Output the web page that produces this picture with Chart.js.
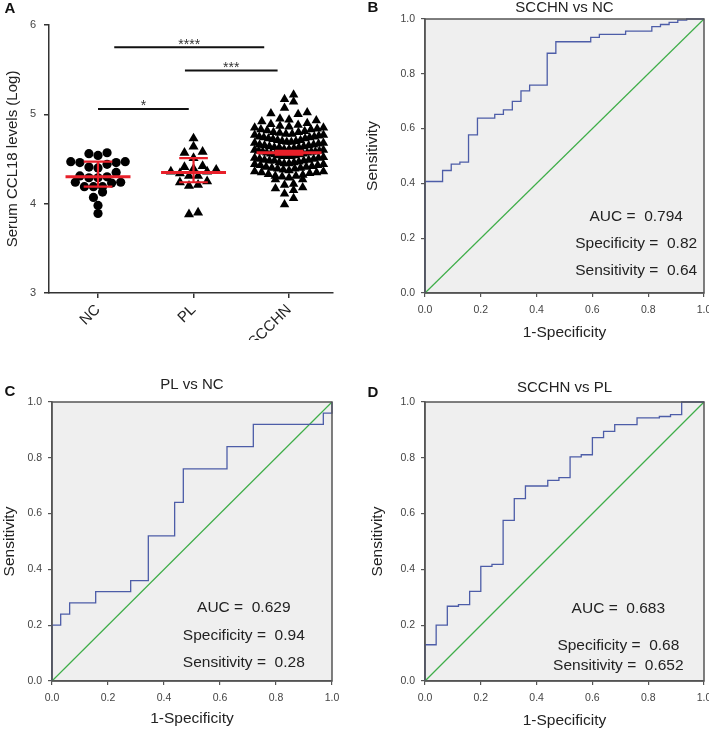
<!DOCTYPE html>
<html>
<head>
<meta charset="utf-8">
<script src="https://cdn.jsdelivr.net/npm/chart.js@4.4.1/dist/chart.umd.min.js"></script>
<style>
  body { margin: 0; background: #fff; }
  #fig { position: relative; width: 709px; height: 730px; overflow: hidden; }
  #fig canvas { position: absolute; }
</style>
</head>
<body>
<div id="fig">
  <canvas id="panelA" width="345" height="340" style="left:0;top:0"></canvas>
  <canvas id="panelB" width="354" height="360" style="left:355px;top:0"></canvas>
  <canvas id="panelC" width="355" height="370" style="left:0;top:360px"></canvas>
  <canvas id="panelD" width="354" height="370" style="left:355px;top:360px"></canvas>
</div>
<script>
// ---- panel A: serum CCL18 (log) per group ----
var groups = ['NC', 'PL', 'SCCHN'];
var ncValues = [4.57, 4.54, 4.56, 4.47, 4.46, 4.44, 4.46, 4.47, 4.40, 4.41, 4.35, 4.30, 4.29,
  4.31, 4.29, 4.24, 4.19, 4.23, 4.24, 4.19, 4.19, 4.13, 4.07, 3.98, 3.89];
var plValues = [4.73, 4.64, 4.57, 4.58, 4.51, 4.41, 4.42, 4.38, 4.31, 4.36, 4.36, 4.39, 4.31,
  4.34, 4.25, 4.21, 4.20, 4.24, 3.88, 3.90];
var scchnValues = [
  5.22, 5.17, 5.14, 5.07, 5.02, 5.01, 5.00, 4.95, 4.94, 4.93, 4.92, 4.90, 4.89, 4.88,
  4.87, 4.86, 4.85, 4.85, 4.84, 4.83, 4.83,
  4.82, 4.81, 4.80, 4.80, 4.79, 4.78, 4.78, 4.77,
  4.77, 4.76, 4.75, 4.75, 4.74, 4.74, 4.73, 4.73,
  4.72, 4.71, 4.71, 4.70, 4.70, 4.69, 4.69, 4.68, 4.68,
  4.67, 4.66, 4.66, 4.65, 4.65, 4.64, 4.64, 4.63, 4.63, 4.63,
  4.62, 4.61, 4.61, 4.60, 4.60, 4.59, 4.59, 4.58, 4.58, 4.58, 4.57,
  4.57, 4.56, 4.56, 4.55, 4.55, 4.54, 4.54, 4.53, 4.53, 4.53,
  4.52, 4.51, 4.51, 4.50, 4.50, 4.49, 4.49, 4.48, 4.48, 4.48,
  4.47, 4.46, 4.46, 4.45, 4.45, 4.44, 4.44, 4.43, 4.43,
  4.42, 4.41, 4.41, 4.40, 4.40, 4.39, 4.39, 4.38,
  4.37, 4.36, 4.36, 4.35, 4.35, 4.34, 4.33,
  4.32, 4.31, 4.31, 4.30, 4.29,
  4.27, 4.27, 4.22, 4.21, 4.18, 4.17, 4.15, 4.11, 4.06, 3.99];
var centreValue = [4.30, 4.35, 4.57];
var lowValue = [4.19, 4.24, 4.55];
var highValue = [4.47, 4.51, 4.59];
var sigFrom = [0.17, 0.91, 0.0];
var sigTo = [1.74, 1.88, 0.95];
var sigLevel = [5.75, 5.49, 5.06];
var sigText = ['****', '***', '*'];

// ---- ROC curves (1-specificity, sensitivity) ----
var chance = [0, 1];
var statNames = ['AUC', 'Specificity', 'Sensitivity'];

var fprB = [0, 0, 0.063, 0.094, 0.125, 0.156, 0.188, 0.25, 0.281, 0.313, 0.344, 0.375, 0.438,
  0.469, 0.594, 0.625, 0.719, 0.813, 0.844, 0.875, 0.906, 0.938, 1.0];
var tprB = [0, 0.407, 0.447, 0.47, 0.478, 0.577, 0.638, 0.652, 0.668, 0.699, 0.738, 0.759, 0.875,
  0.917, 0.933, 0.944, 0.956, 0.972, 0.98, 0.988, 0.996, 1.0, 1.0];
var statsB = ['0.794', '0.82', '0.64'];

var fprC = [0, 0, 0.031, 0.063, 0.156, 0.281, 0.344, 0.438, 0.469, 0.625, 0.719, 0.969, 1.0, 1.0];
var tprC = [0, 0.20, 0.24, 0.28, 0.32, 0.36, 0.52, 0.64, 0.76, 0.84, 0.92, 0.96, 0.96, 1.0];
var statsC = ['0.629', '0.94', '0.28'];

var fprD = [0, 0, 0.04, 0.08, 0.12, 0.16, 0.20, 0.24, 0.28, 0.32, 0.36, 0.44, 0.48, 0.52, 0.56,
  0.60, 0.64, 0.68, 0.76, 0.84, 0.88, 0.92, 1.0];
var tprD = [0, 0.13, 0.20, 0.268, 0.274, 0.321, 0.411, 0.418, 0.576, 0.654, 0.699, 0.719, 0.729,
  0.803, 0.811, 0.872, 0.895, 0.919, 0.943, 0.948, 0.955, 1.0, 1.0];
var statsD = ['0.683', '0.68', '0.652'];

var FONT = '"Liberation Sans", Arial, sans-serif';
Chart.defaults.font.family = FONT;
Chart.defaults.color = '#333';

// rows of similar values, filled from the middle outwards (prism style)
function swarm(values, centre, rowSpan, gap, maxHalf) {
  var sorted = values.slice().sort(function (a, b) { return a - b; });
  var rows = [], row = [];
  sorted.forEach(function (v) {
    if (row.length && v - row[0] > rowSpan) { rows.push(row); row = []; }
    row.push(v);
  });
  if (row.length) rows.push(row);
  var pts = [];
  rows.forEach(function (r) {
    var n = r.length;
    var step = n > 1 ? Math.min(gap, 2 * maxHalf / (n - 1)) : 0;
    var slots = [];
    for (var i = 0; i < n; i++) slots.push((i - (n - 1) / 2) * step);
    slots.sort(function (a, b) { return Math.abs(a) - Math.abs(b) || a - b; });
    r.forEach(function (v, i) { pts.push({ x: centre + slots[i], y: v }); });
  });
  return pts;
}

var panelText = {
  id: 'panelText',
  afterDraw: function (chart, args, o) {
    var ctx = chart.ctx, a = chart.chartArea;
    ctx.save();
    ctx.fillStyle = '#111';
    ctx.textAlign = 'center';
    ctx.textBaseline = 'middle';
    ctx.font = 'bold 15px ' + FONT;
    ctx.fillText(o.letter, o.lx, o.ly);
    if (o.title) {
      ctx.fillStyle = '#222';
      ctx.font = '15px ' + FONT;
      ctx.fillText(o.title, (a.left + a.right) / 2, a.top - o.titleGap);
    }
    if (o.stats) {
      ctx.font = '15.5px ' + FONT;
      var sx = chart.scales.x.getPixelForValue(o.statX);
      o.stats.forEach(function (v, i) {
        ctx.fillText(statNames[i] + ' =  ' + v, sx, chart.scales.y.getPixelForValue(o.statY[i]));
      });
    }
    ctx.restore();
  }
};

var plotFrame = {
  id: 'plotFrame',
  beforeDraw: function (chart, args, o) {
    if (!o.fill) return;
    var a = chart.chartArea, ctx = chart.ctx;
    ctx.save();
    ctx.fillStyle = o.fill;
    ctx.fillRect(a.left, a.top, a.right - a.left, a.bottom - a.top);
    ctx.restore();
  },
  afterDraw: function (chart, args, o) {
    if (!o.stroke) return;
    var a = chart.chartArea, ctx = chart.ctx;
    ctx.save();
    ctx.strokeStyle = o.stroke;
    ctx.lineWidth = 1.5;
    ctx.strokeRect(a.left, a.top, a.right - a.left, a.bottom - a.top);
    ctx.restore();
  }
};

var summaryBars = {
  id: 'summaryBars',
  afterDatasetsDraw: function (chart) {
    var x = chart.scales.x, y = chart.scales.y, ctx = chart.ctx;
    ctx.save();
    ctx.strokeStyle = '#e8202a';
    groups.forEach(function (g, i) {
      var cx = x.getPixelForValue(i);
      var hw = x.getPixelForValue(i + 0.34) - cx;
      var cw = x.getPixelForValue(i + 0.15) - cx;
      var ym = y.getPixelForValue(centreValue[i]);
      var yl = y.getPixelForValue(lowValue[i]);
      var yh = y.getPixelForValue(highValue[i]);
      ctx.lineWidth = 2.2;
      ctx.beginPath();
      ctx.moveTo(cx, yl); ctx.lineTo(cx, yh);
      ctx.moveTo(cx - cw, yl); ctx.lineTo(cx + cw, yl);
      ctx.moveTo(cx - cw, yh); ctx.lineTo(cx + cw, yh);
      ctx.stroke();
      ctx.lineWidth = 3;
      ctx.beginPath();
      ctx.moveTo(cx - hw, ym); ctx.lineTo(cx + hw, ym);
      ctx.stroke();
    });
    ctx.strokeStyle = '#111';
    ctx.fillStyle = '#333';
    ctx.lineWidth = 2;
    ctx.font = '14px ' + FONT;
    ctx.textAlign = 'center';
    ctx.textBaseline = 'alphabetic';
    sigText.forEach(function (t, i) {
      var x0 = x.getPixelForValue(sigFrom[i]), x1 = x.getPixelForValue(sigTo[i]);
      var yy = y.getPixelForValue(sigLevel[i]);
      ctx.beginPath();
      ctx.moveTo(x0, yy); ctx.lineTo(x1, yy);
      ctx.stroke();
      ctx.fillText(t, (x0 + x1) / 2, yy + 1.5);
    });
    ctx.restore();
  }
};

function dots(values, centre, style, r) {
  return {
    data: swarm(values, centre, 0.08, 0.095, 0.36),
    pointStyle: style,
    pointRadius: r,
    backgroundColor: '#000',
    borderColor: '#000',
    borderWidth: 0,
    showLine: false
  };
}

new Chart(document.getElementById('panelA'), {
  type: 'scatter',
  data: {
    datasets: [
      dots(ncValues, 0, 'circle', 4.6),
      dots(plValues, 1, 'triangle', 5.8),
      dots(scchnValues, 2, 'triangle', 5.5)
    ]
  },
  options: {
    responsive: false,
    animation: false,
    layout: { padding: { left: 0, right: 12, top: 25, bottom: 0 } },
    plugins: {
      legend: { display: false },
      tooltip: { enabled: false },
      panelText: { letter: 'A', lx: 10, ly: 9 }
    },
    scales: {
      x: {
        type: 'linear', min: -0.513, max: 2.46,
        afterBuildTicks: function (s) { s.ticks = [{ value: 0 }, { value: 1 }, { value: 2 }]; },
        afterFit: function (s) { s.height = 47; s.paddingLeft = 0; s.paddingRight = 0; },
        ticks: {
          callback: function (v) { return groups[v]; },
          minRotation: 45, maxRotation: 45, autoSkip: false,
          font: { size: 15 }, color: '#222', padding: 3
        },
        grid: { drawOnChartArea: false, tickLength: 5, color: '#333', lineWidth: 1.5 },
        border: { color: '#333', width: 1.5 }
      },
      y: {
        min: 3, max: 6,
        afterFit: function (s) { s.width = 49; s.paddingTop = 0; s.paddingBottom = 0; },
        ticks: { stepSize: 1, font: { size: 11 }, color: '#444', padding: 8 },
        grid: { drawOnChartArea: false, tickLength: 5, color: '#333', lineWidth: 1.5 },
        border: { color: '#333', width: 1.5 },
        title: {
          display: true, text: 'Serum CCL18 levels (Log)',
          font: { size: 15 }, color: '#222', padding: { top: 4, bottom: 0 }
        }
      }
    }
  },
  plugins: [summaryBars, panelText]
});

function rocChart(id, cfg) {
  return new Chart(document.getElementById(id), {
    type: 'line',
    data: {
      datasets: [
        {
          data: cfg.fpr.map(function (f, i) { return { x: f, y: cfg.tpr[i] }; }),
          stepped: 'before', borderColor: '#4d5da8', borderWidth: 1.3,
          pointRadius: 0, fill: false, clip: 4
        },
        {
          data: chance.map(function (v) { return { x: v, y: v }; }),
          borderColor: '#3fae49', borderWidth: 1.2, pointRadius: 0, fill: false, clip: 4
        }
      ]
    },
    options: {
      responsive: false,
      animation: false,
      layout: { padding: cfg.padding },
      plugins: {
        legend: { display: false },
        tooltip: { enabled: false },
        plotFrame: { fill: '#efefef', stroke: '#555' },
        panelText: {
          letter: cfg.letter, lx: cfg.lx, ly: cfg.ly,
          title: cfg.title, titleGap: cfg.titleGap,
          stats: cfg.stats, statX: cfg.statX, statY: cfg.statY
        }
      },
      scales: {
        x: {
          type: 'linear', min: 0, max: 1,
          afterFit: function (s) { s.height = cfg.xH; s.paddingLeft = 0; s.paddingRight = 0; },
          ticks: {
            stepSize: 0.2, autoSkip: false, maxRotation: 0,
            callback: function (v) { return v.toFixed(1); },
            font: { size: 10.5 }, color: '#444', padding: 7
          },
          grid: { drawOnChartArea: false, tickLength: 4, color: '#555', lineWidth: 1.2 },
          border: { color: '#555', width: 1.5 },
          title: {
            display: true, text: '1-Specificity', font: { size: 15.5 }, color: '#222',
            padding: { top: 0, bottom: cfg.xTitlePad }
          }
        },
        y: {
          min: 0, max: 1,
          afterFit: function (s) { s.width = cfg.yW; s.paddingTop = 0; s.paddingBottom = 0; },
          ticks: {
            stepSize: 0.2,
            callback: function (v) { return v.toFixed(1); },
            font: { size: 10.5 }, color: '#444', padding: 6
          },
          grid: { drawOnChartArea: false, tickLength: 4, color: '#555', lineWidth: 1.2 },
          border: { color: '#555', width: 1.5 },
          title: {
            display: true, text: 'Sensitivity', font: { size: 15.5 }, color: '#222',
            padding: { top: cfg.yTitlePad, bottom: 0 }
          }
        }
      }
    },
    plugins: [plotFrame, panelText]
  });
}

rocChart('panelB', {
  fpr: fprB, tpr: tprB, stats: statsB, title: 'SCCHN vs NC', letter: 'B',
  lx: 18, ly: 8, titleGap: 11.5, statX: 0.757, statY: [0.277, 0.179, 0.08],
  padding: { left: 0, right: 5, top: 19, bottom: 0 }, xH: 67, yW: 70,
  xTitlePad: 18, yTitlePad: 8
});
rocChart('panelC', {
  fpr: fprC, tpr: tprC, stats: statsC, title: 'PL vs NC', letter: 'C',
  lx: 10, ly: 32, titleGap: 17, statX: 0.685, statY: [0.262, 0.161, 0.065],
  padding: { left: 0, right: 23, top: 42, bottom: 0 }, xH: 49, yW: 52,
  xTitlePad: 1.5, yTitlePad: 0
});
rocChart('panelD', {
  fpr: fprD, tpr: tprD, stats: statsD, title: 'SCCHN vs PL', letter: 'D',
  lx: 18, ly: 33, titleGap: 14, statX: 0.693, statY: [0.258, 0.125, 0.055],
  padding: { left: 0, right: 5, top: 42, bottom: 0 }, xH: 49, yW: 70,
  xTitlePad: 0, yTitlePad: 13
});
</script>
</body>
</html>
